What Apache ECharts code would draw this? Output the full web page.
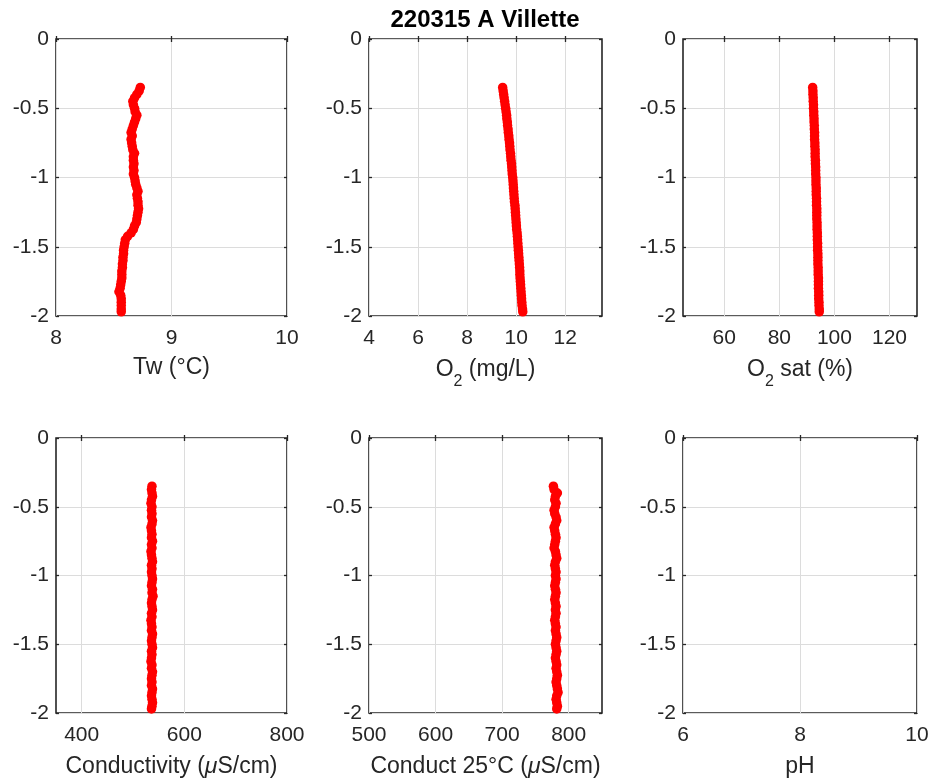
<!DOCTYPE html>
<html><head><meta charset="utf-8">
<script src="https://cdn.jsdelivr.net/npm/echarts@6/dist/echarts.min.js"></script>
<style>html,body{margin:0;padding:0;background:#fff}#c{width:933px;height:783px}</style>
</head><body><div id="c"></div>
<script>
// ---- data ----
const depth = [
 -0.35,-0.375,-0.4,-0.425,-0.45,-0.475,-0.5,-0.525,-0.55,-0.575,
 -0.6,-0.625,-0.65,-0.675,-0.7,-0.725,-0.75,-0.775,-0.8,-0.825,
 -0.85,-0.875,-0.9,-0.925,-0.95,-0.975,-1,-1.025,-1.05,-1.075,
 -1.1,-1.125,-1.15,-1.175,-1.2,-1.225,-1.25,-1.275,-1.3,-1.325,
 -1.35,-1.375,-1.4,-1.425,-1.45,-1.475,-1.5,-1.525,-1.55,-1.575,
 -1.6,-1.625,-1.65,-1.675,-1.7,-1.725,-1.75,-1.775,-1.8,-1.825,
 -1.85,-1.875,-1.9,-1.925,-1.95,-1.97];
const tw = [
 8.73,8.72,8.70,8.68,8.665,8.67,8.68,8.685,8.70,8.69,
 8.68,8.67,8.66,8.65,8.66,8.65,8.655,8.66,8.665,8.68,
 8.67,8.67,8.675,8.67,8.675,8.67,8.68,8.685,8.69,8.70,
 8.71,8.70,8.705,8.71,8.71,8.715,8.71,8.705,8.70,8.695,
 8.68,8.67,8.65,8.62,8.60,8.595,8.59,8.585,8.585,8.58,
 8.58,8.575,8.575,8.57,8.57,8.57,8.565,8.56,8.555,8.545,
 8.56,8.565,8.565,8.565,8.565,8.565];
const o2 = [
 9.45,9.47,9.49,9.51,9.53,9.55,9.57,9.59,9.61,9.62,
 9.64,9.65,9.67,9.68,9.70,9.71,9.73,9.74,9.75,9.77,
 9.78,9.79,9.81,9.82,9.83,9.84,9.86,9.87,9.88,9.89,
 9.90,9.91,9.92,9.93,9.95,9.96,9.97,9.98,9.99,10.00,
 10.01,10.02,10.04,10.05,10.06,10.07,10.08,10.09,10.10,10.11,
 10.12,10.13,10.14,10.15,10.15,10.16,10.17,10.18,10.19,10.20,
 10.21,10.22,10.23,10.24,10.26,10.27];
const o2sat = [
 92.1,92.2,92.2,92.3,92.3,92.4,92.4,92.5,92.5,92.6,
 92.6,92.7,92.7,92.8,92.8,92.8,92.9,92.9,93.0,93.0,
 93.0,93.1,93.1,93.2,93.2,93.2,93.3,93.3,93.3,93.4,
 93.4,93.4,93.5,93.5,93.5,93.6,93.6,93.6,93.6,93.7,
 93.7,93.7,93.8,93.8,93.8,93.9,93.9,93.9,94.0,94.0,
 94.0,94.0,94.1,94.1,94.1,94.2,94.2,94.2,94.2,94.3,
 94.3,94.3,94.4,94.4,94.5,94.5];
const cond = [
 537,536,537,538,536,535,537,536,537,536,
 538,537,535,536,537,536,538,536,537,535,
 536,537,538,536,537,536,537,538,537,536,
 538,537,539,537,536,537,538,536,537,535,
 536,537,536,538,537,536,537,538,536,537,
 536,535,537,536,538,537,536,537,536,538,
 537,536,537,538,537,536];
const cond25 = [
 777,778,783,780,779,781,780,778,779,781,
 782,780,778,779,780,781,780,779,778,780,
 781,782,780,779,780,781,780,781,780,779,
 780,781,780,779,780,781,780,781,780,779,
 780,781,780,781,782,781,780,781,782,781,
 780,781,782,781,782,783,782,781,782,783,
 784,782,781,782,783,782];
const ph = [];

const depthTicks = [0,-0.5,-1,-1.5,-2];
const twTicks = [8,9,10];
const o2Ticks = [4,6,8,10,12];
const o2satTicks = [60,80,100,120];
const condTicks = [400,600,800];
const cond25Ticks = [500,600,700,800];
const phTicks = [6,8,10];

const titleText = '220315 A Villette';

// ---- layout / style ----
const font = '"Liberation Sans", Arial, Helvetica, sans-serif';
const ink = '#262626';
const gridCol = '#dcdcdc';
const colX = [[56,231],[369,233],[683,234]];
const rowY = [[39,277],[438,275]];

const nameRich = {
  n: {fontSize: 23, color: ink, fontFamily: font},
  s: {fontSize: 16, color: ink, fontFamily: font, padding: [24,0,0,0]},
  m: {fontSize: 23, color: ink, fontFamily: font, fontStyle: 'italic'}
};

const panels = [
  {vals: tw,     ticks: twTicks,     min: 8,   max: 10,   name: '{n|Tw (°C)}', gap: 40, r:0, c:0},
  {vals: o2,     ticks: o2Ticks,     min: 4,   max: 13.5, name: '{n|O}{s|2}{n| (mg/L)}', gap: 34, r:0, c:1},
  {vals: o2sat,  ticks: o2satTicks,  min: 45,  max: 130,  name: '{n|O}{s|2}{n| sat (%)}', gap: 34, r:0, c:2},
  {vals: cond,   ticks: condTicks,   min: 350, max: 800,  name: '{n|Conductivity (}{m|μ}{n|S/cm)}', gap: 42, r:1, c:0},
  {vals: cond25, ticks: cond25Ticks, min: 500, max: 850,  name: '{n|Conduct 25°C (}{m|μ}{n|S/cm)}', gap: 42, r:1, c:1},
  {vals: ph,     ticks: phTicks,     min: 6,   max: 10,   name: '{n|pH}', gap: 42, r:1, c:2}
];

const grid = [], xAxis = [], yAxis = [], series = [];
panels.forEach((p, i) => {
  grid.push({left: colX[p.c][0], width: colX[p.c][1], top: rowY[p.r][0], height: rowY[p.r][1],
    show: true, borderColor: ink, borderWidth: 1.6, backgroundColor: 'transparent'});
  const tickStyle = {show: true, inside: true, length: 3, customValues: p.ticks, lineStyle: {color: ink, width: 1.3}};
  xAxis.push({type: 'value', gridIndex: i, min: p.min, max: p.max, position: 'bottom',
    axisLine: {show: false}, axisTick: tickStyle,
    axisLabel: {customValues: p.ticks, margin: 12, color: ink, fontSize: 21, fontFamily: font},
    splitLine: {show: true, lineStyle: {color: gridCol, width: 1}},
    name: p.name, nameLocation: 'middle', nameGap: p.gap, nameTextStyle: {rich: nameRich}});
  xAxis.push({type: 'value', gridIndex: i, min: p.min, max: p.max, position: 'top',
    axisLine: {show: false}, axisTick: tickStyle, axisLabel: {show: false}, splitLine: {show: false}});
  const yTick = {show: true, inside: true, length: 3, customValues: depthTicks, lineStyle: {color: ink, width: 1.3}};
  yAxis.push({type: 'value', gridIndex: i, min: -2, max: 0, interval: 0.5, position: 'left',
    axisLine: {show: false}, axisTick: yTick,
    axisLabel: {customValues: depthTicks, margin: 7, color: ink, fontSize: 21, fontFamily: font},
    splitLine: {show: true, lineStyle: {color: gridCol, width: 1}}});
  yAxis.push({type: 'value', gridIndex: i, min: -2, max: 0, interval: 0.5, position: 'right',
    axisLine: {show: false}, axisTick: yTick, axisLabel: {show: false}, splitLine: {show: false}});
  series.push({type: 'scatter', xAxisIndex: 2*i, yAxisIndex: 2*i,
    data: p.vals.map((v, k) => [v, depth[k]]),
    symbol: 'circle', symbolSize: 9.5, itemStyle: {color: '#ff0000', opacity: 1}, silent: true});
});

const chart = echarts.init(document.getElementById('c'), null, {renderer: 'canvas'});
chart.setOption({
  animation: false,
  backgroundColor: '#ffffff',
  grid, xAxis, yAxis, series,
  graphic: [{type: 'text', x: 485, y: 20,
    style: {text: titleText, textAlign: 'center', textVerticalAlign: 'middle',
      font: 'bold 24px ' + font, fill: '#000000'}}]
});
</script></body></html>
